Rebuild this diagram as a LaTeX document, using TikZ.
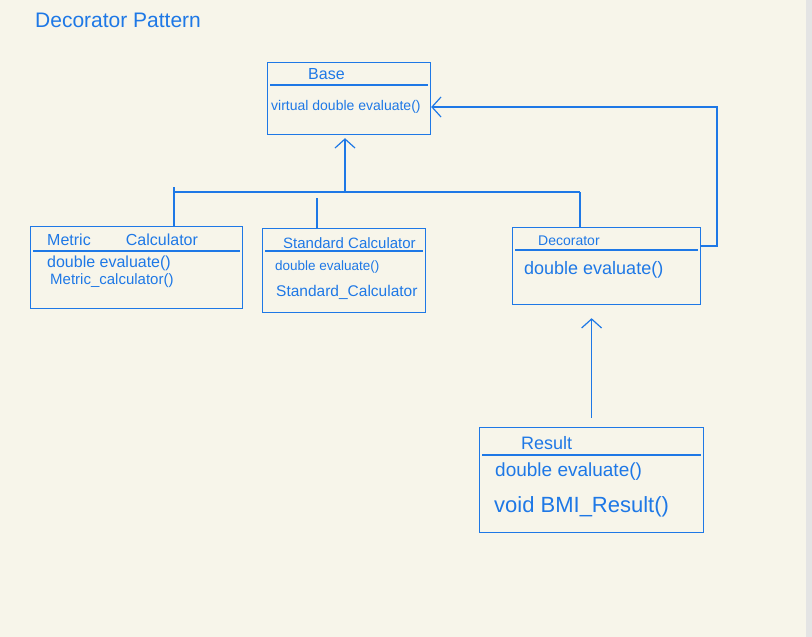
\documentclass[tikz,border=0pt]{standalone}
\usepackage{fontspec}
\setmainfont{Liberation Sans}
\usepackage{tikz}
\usetikzlibrary{positioning, arrows.meta}
\tikzstyle{sketch} = [x = 1pt, y = -1pt]
\definecolor{penColor}{RGB}{30,120,230}
\definecolor{paperColor}{RGB}{247,245,234}
\definecolor{barColor}{RGB}{228,228,228}
\tikzstyle{penLine} = [draw=penColor, line width=1.2pt]
\tikzstyle{classBoxStyle} = [penLine, rectangle, inner sep=0pt, anchor=north west]
\tikzstyle{inheritLine} = [penLine, -{Straight Barb[length=9pt, width=20pt]}]
\tikzstyle{penText} = [text=penColor, anchor=west, inner sep=0pt]
\newcommand{\penSize}[1]{\fontsize{#1}{#1}\selectfont}
\newcommand{\classBox}[6]{
  \node [classBoxStyle, minimum width=#4pt, minimum height=#5pt] (#1) at (#2,#3) {};
  \draw [penLine] ([xshift=3pt, yshift=-#6pt]#1.north west) -- ([xshift=-3pt, yshift=-#6pt]#1.north east);
}

\begin{document}
\begin{tikzpicture}[sketch]
  \fill [paperColor] (0,0) rectangle (812,637);
  \fill [barColor] (806,0) rectangle (812,637);
  \node [penText, font=\penSize{21}] (title) at (35,20) {Decorator Pattern};

  \classBox{base}{267}{62}{163}{72}{23}
  \node [penText, font=\penSize{16}] (baseName) at (308,74) {Base};
  \node [penText, font=\penSize{14}] (baseEval) at (271,107) {virtual double evaluate()};

  \classBox{metric}{30}{226}{212}{82}{25}
  \node [penText, font=\penSize{16}] (metricName) at (47,240) {Metric\hspace{2.2em}Calculator};
  \node [penText, font=\penSize{16}] (metricEval) at (47,263) {double evaluate()};
  \node [penText, font=\penSize{15}] (metricMake) at (50,281) {Metric\_calculator()};

  \classBox{standard}{262}{228}{163}{84}{23}
  \node [penText, font=\penSize{15}] (standardName) at (283,243) {Standard Calculator};
  \node [penText, font=\penSize{13.5}] (standardEval) at (275,267) {double evaluate()};
  \node [penText, font=\penSize{15.5}] (standardMake) at (276,292) {Standard\_Calculator};

  \classBox{deco}{512}{227}{188}{77}{23}
  \node [penText, font=\penSize{14}] (decoName) at (538,241) {Decorator};
  \node [penText, font=\penSize{18}] (decoEval) at (524,270) {double evaluate()};

  \classBox{result}{479}{427}{224}{105}{28}
  \node [penText, font=\penSize{18}] (resultName) at (521,443) {Result};
  \node [penText, font=\penSize{19}] (resultEval) at (495,472) {double evaluate()};
  \node [penText, font=\penSize{22}] (resultBmi) at (494,507) {void BMI\_Result()};

  \coordinate (hub) at (345,192);
  \coordinate (busLeft) at (174,192);
  \coordinate (busRight) at (580,192);
  \coordinate (busMid) at (317,198);
  \coordinate (loopTop) at (717,107);
  \coordinate (loopBottom) at (717,246);
  \draw [inheritLine, shorten >=3pt] (hub) -- (hub |- base.south);
  \draw [penLine] (busLeft) -- (busRight);
  \draw [penLine] ([yshift=5pt]busLeft) -- (busLeft |- metric.north);
  \draw [penLine] (busMid) -- (busMid |- standard.north);
  \draw [penLine] (busRight) -- (busRight |- deco.north);
  \draw [inheritLine] (deco.east |- loopBottom) -- (loopBottom) -- (loopTop) -- (base.east |- loopTop);
  \draw [inheritLine, shorten <=9pt, shorten >=13pt] (result.north) -- (result.north |- deco.south);
\end{tikzpicture}
\end{document}
